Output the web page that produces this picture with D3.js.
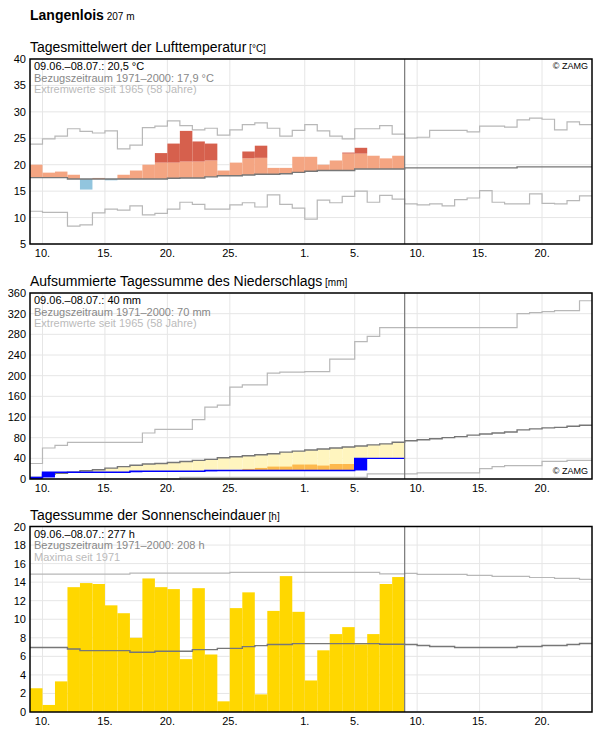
<!DOCTYPE html>
<html><head><meta charset="utf-8">
<script src="https://cdn.jsdelivr.net/npm/d3@7"></script>
<style>body{margin:0;background:#fff;font-family:"Liberation Sans",Arial,sans-serif}</style>
</head><body><svg id="c" width="596" height="729"></svg>
<script>
const tickDays=[1,6,11,16,22,26,31,36,41];
const tickLabels=["10.","15.","20.","25.","1.","5.","10.","15.","20."];
const tempObs=[20.0,18.5,18.7,18.1,15.3,17.5,17.05,18.1,18.9,20.0,22.2,24.0,26.4,24.4,24.0,18.9,20.4,22.5,23.6,19.4,19.4,21.5,21.5,20.0,20.8,22.3,23.2,21.7,21.2,21.7];
const tempUpper=[20.4,20.3,20.3,20.2,20.2,20.2,20.2,20.2,20.3,20.3,20.4,20.4,20.6,20.6,20.8,20.9,21.0,21.2,21.3,21.4,21.5,21.6,21.7,21.8,21.9,22.1,22.1,22.2,22.3,22.3];
const tempMean=[17.55,17.55,17.55,17.3,17.3,17.3,17.3,17.3,17.3,17.3,17.3,17.45,17.5,17.5,17.7,17.9,17.9,18.05,18.2,18.2,18.3,18.55,18.75,18.9,18.9,18.9,19.2,19.2,19.2,19.2,19.4,19.4,19.4,19.4,19.4,19.4,19.4,19.4,19.4,19.6,19.6,19.6,19.6,19.6,19.6];
const tempMax=[23.9,24.9,25.4,26.8,26.3,26.0,26.4,23.0,23.7,27.0,27.3,28.3,27.4,26.6,26.9,25.6,26.6,27.6,27.9,26.9,25.4,26.5,27.6,26.4,25.4,24.9,26.8,26.8,27.4,25.8,25.05,25.2,26.5,26.5,26.5,26.2,27.3,27.3,27.1,28.5,28.8,28.6,26.6,28.1,27.6];
const tempMin=[11.2,11.0,11.0,8.4,8.6,10.9,11.6,11.4,12.2,10.5,10.8,11.6,12.9,12.5,11.6,11.6,12.4,12.8,12.0,14.3,12.5,11.8,9.7,13.3,12.8,14.0,15.0,12.9,14.2,13.5,12.6,12.4,12.6,12.2,13.4,13.7,15.1,12.9,12.6,12.6,14.5,12.7,12.6,13.2,14.1];
const precDaily=[3,10,0,0,0,0,0,0,2,0,0,0,0,0,1.5,0,0,0,0,0,0,0,0,0,0,0,23.5,0,0,0];
const precLow=[0,2,3,4,5,6,7,8,9,10,10,11,11,12,12,13,14,19.5,21.4,24,24,28,28,26,29,29,30,31,32,33];
const precMean=[3,9,11,13,16,18,21,24,26.5,29,30,32,34,36,38,41,43,45,47,49,52,54,56,58,60,62,64,66,68,71,74,76,78,80,82,85,87,89,91,95,97,99,100,102,104];
const precMax=[30,60,65,71,71,71,71,71,71,89,96,96,96,115,139,143,178,182,182,205,207,207,208,208,232,232,266,276,293,293,293,293,293,293,293,293,293,293,293,320,322,324,326,326,345];
const precMin=[0,0,0,0,0,0,0,0,0,0,0,0,3,3,3,3,3,3,3,3,3,3,3,3,3,3,3,10,10,10,10,12,12,12,12,12,20,24,26,26,26,34,34,36,36];
const sunObs=[2.56,0.76,3.3,13.46,13.9,13.8,11.5,10.65,8.0,14.4,13.46,13.25,5.7,13.35,6.2,1.15,11.2,12.9,1.9,10.9,14.65,10.8,3.4,6.65,8.4,9.15,7.3,8.4,13.8,14.55];
const sunMean=[6.95,6.95,6.95,6.8,6.62,6.62,6.62,6.62,6.44,6.44,6.55,6.55,6.55,6.73,6.73,6.86,6.86,7.05,7.16,7.27,7.27,7.37,7.37,7.37,7.37,7.37,7.37,7.37,7.3,7.3,7.28,7.17,7.06,7.06,6.96,6.96,6.96,6.96,6.96,7.06,7.06,7.17,7.17,7.28,7.39];
const sunMax=[14.87,14.87,14.87,14.87,14.87,14.87,14.87,14.87,14.98,14.98,14.98,14.98,14.98,14.98,14.98,14.98,15.05,15.05,15.05,15.05,15.05,15.05,15.05,15.05,15.05,15.05,15.05,15.05,14.9,14.9,14.95,14.84,14.84,14.84,14.84,14.73,14.73,14.62,14.62,14.62,14.5,14.5,14.4,14.4,14.3];

const svg=d3.select("#c");
const NDAYS=45, NOBS=30;
const x=d3.scaleLinear().domain([0,NDAYS]).range([30,592]);
const F='"Liberation Sans",Arial,sans-serif';
svg.append("text").attr("x",30).attr("y",20).attr("font-family",F).attr("font-size",14).attr("font-weight","bold").text("Langenlois")
  .append("tspan").attr("font-weight","normal").attr("font-size",10).text(" 207 m");

function stepPath(g,y,vals,color,w){
  const pts=vals.map((v,i)=>[i,v]); pts.push([vals.length,vals[vals.length-1]]);
  g.append("path").attr("d",d3.line().x(d=>x(d[0])).y(d=>y(d[1])).curve(d3.curveStepAfter)(pts))
   .attr("fill","none").attr("stroke",color).attr("stroke-width",w||1.2);
}
function panel(top,bottom,domain,ticks,title,unit,lines,zamg){
  const g=svg.append("g");
  const y=d3.scaleLinear().domain(domain).range([bottom,top]);
  svg.append("text").attr("x",30).attr("y",top-7).attr("font-family",F).attr("font-size",14).text(title)
   .append("tspan").attr("font-size",10).text(" ["+unit+"]");
  ticks.forEach(t=>{g.append("line").attr("x1",30).attr("x2",592).attr("y1",y(t)).attr("y2",y(t)).attr("stroke","#e6e6e6");
    g.append("text").attr("x",26).attr("y",y(t)+4).attr("text-anchor","end").attr("font-family",F).attr("font-size",11).text(t);});
  tickDays.forEach((d,i)=>{g.append("line").attr("x1",x(d)).attr("x2",x(d)).attr("y1",top).attr("y2",bottom).attr("stroke","#e6e6e6");
    g.append("text").attr("x",x(d)).attr("y",bottom+13).attr("text-anchor","middle").attr("font-family",F).attr("font-size",11).text(tickLabels[i]);});
  const marks=svg.append("g");
  const over=svg.append("g");
  over.append("line").attr("x1",x(NOBS)).attr("x2",x(NOBS)).attr("y1",top).attr("y2",bottom).attr("stroke","#777").attr("stroke-width",1.2);
  over.append("rect").attr("x",30).attr("y",top).attr("width",562).attr("height",bottom-top).attr("fill","none").attr("stroke","#000").attr("stroke-width",1.5);
  const cols=["#000","#888","#bbb"];
  lines.forEach((s,i)=>over.append("text").attr("x",34).attr("y",top+11+i*11.5).attr("font-family",F).attr("font-size",11).attr("fill",cols[i]).text(s));
  if(zamg==="top") over.append("text").attr("x",588).attr("y",top+10).attr("text-anchor","end").attr("font-family",F).attr("font-size",9).text("© ZAMG");
  if(zamg==="bottom") over.append("text").attr("x",588).attr("y",bottom-5).attr("text-anchor","end").attr("font-family",F).attr("font-size",9).text("© ZAMG");
  return {y,marks};
}
{const {y,marks}=panel(59,244,[5,40],d3.range(5,41,5),"Tagesmittelwert der Lufttemperatur","°C",
  ["09.06.–08.07.: 20,5 °C","Bezugszeitraum 1971–2000: 17,9 °C","Extremwerte seit 1965 (58 Jahre)"],"top");
 tempObs.forEach((v,i)=>{const m=tempMean[i],u=tempUpper[i],x0=x(i),w=x(i+1)-x(i);
   if(v>=m){const top=Math.min(v,u);
     marks.append("rect").attr("x",x0).attr("width",w).attr("y",y(top)).attr("height",y(m)-y(top)).attr("fill","#f4a582");
     if(v>u)marks.append("rect").attr("x",x0).attr("width",w).attr("y",y(v)).attr("height",y(u)-y(v)).attr("fill","#d6604d");
   } else marks.append("rect").attr("x",x0).attr("width",w).attr("y",y(m)).attr("height",y(v)-y(m)).attr("fill","#92c5de");});
 stepPath(marks,y,tempMax,"#b8b8b8");stepPath(marks,y,tempMin,"#b8b8b8");stepPath(marks,y,tempMean,"#777",1.4);}
{const {y,marks}=panel(293,479,[0,360],d3.range(0,361,40),"Aufsummierte Tagessumme des Niederschlags","mm",
  ["09.06.–08.07.: 40 mm","Bezugszeitraum 1971–2000: 70 mm","Extremwerte seit 1965 (58 Jahre)"],"bottom");
 const cum=[];let s=0;precDaily.forEach(v=>{s+=v;cum.push(s);});
 cum.forEach((c,i)=>{const m=precMean[i],l=precLow[i],x0=x(i),w=x(i+1)-x(i);
   if(m>c)marks.append("rect").attr("x",x0).attr("width",w).attr("y",y(m)).attr("height",y(c)-y(m)).attr("fill","#fff5bf");
   const lt=Math.min(l,m); if(lt>c)marks.append("rect").attr("x",x0).attr("width",w).attr("y",y(lt)).attr("height",y(c)-y(lt)).attr("fill","#fdb94d");});
 stepPath(marks,y,precMax,"#b8b8b8");stepPath(marks,y,precMin,"#b8b8b8");stepPath(marks,y,precMean,"#777",1.4);
 stepPath(marks,y,cum,"#0000ff",1.4);
 cum.forEach((c,i)=>{const p=precDaily[i]; if(p>0)marks.append("rect").attr("x",x(i)).attr("width",x(i+1)-x(i)).attr("y",y(c)).attr("height",y(c-p)-y(c)).attr("fill","#0000ff");});}
{const {y,marks}=panel(526.5,712,[0,20],d3.range(0,21,2),"Tagessumme der Sonnenscheindauer","h",
  ["09.06.–08.07.: 277 h","Bezugszeitraum 1971–2000: 208 h","Maxima seit 1971"],null);
 sunObs.forEach((v,i)=>marks.append("rect").attr("x",x(i)).attr("width",x(i+1)-x(i)).attr("y",y(v)).attr("height",y(0)-y(v)).attr("fill","#ffd700"));
 stepPath(marks,y,sunMax,"#b8b8b8");stepPath(marks,y,sunMean,"#777",1.4);}
</script></body></html>
